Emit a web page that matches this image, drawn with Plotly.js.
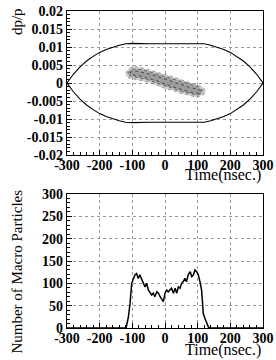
<!DOCTYPE html>
<html>
<head>
<meta charset="utf-8">
<script src="https://cdn.plot.ly/plotly-3.0.1.min.js"></script>
<style>html,body{margin:0;padding:0;background:#fff;}#chart{width:276px;height:360px;}</style>
</head>
<body>
<div id="chart"></div>
<script>
// Separatrix (bucket boundary)
var sepTime  = [-300,-280,-260,-240,-220,-200,-180,-160,-140,-120,-100,-50,0,50,100,120,140,160,180,200,220,240,260,280,300];
var sepUpper = [0,0.0025,0.0045,0.0061,0.0074,0.0085,0.0093,0.0100,0.0105,0.0109,0.0110,0.0109,0.0109,0.0109,0.0110,0.0109,0.0105,0.0100,0.0093,0.0085,0.0074,0.0061,0.0045,0.0025,0];
var sepLower = [0,-0.0025,-0.0045,-0.0061,-0.0074,-0.0085,-0.0093,-0.0100,-0.0105,-0.0109,-0.0110,-0.0109,-0.0109,-0.0109,-0.0110,-0.0109,-0.0105,-0.0100,-0.0093,-0.0085,-0.0074,-0.0061,-0.0045,-0.0025,0];

// Particle distribution outline (outer)
var blobOuterT  = [-120,-112,-100,-90,-70,-50,-25,0,25,50,75,100,115,124,119,105,90,70,50,25,0,-25,-50,-75,-95,-110,-120];
var blobOuterDp = [0.0027,0.0039,0.0044,0.0045,0.0042,0.0037,0.0030,0.0024,0.0017,0.0009,0.0001,-0.0005,-0.0011,-0.0022,-0.0032,-0.0037,-0.0038,-0.0033,-0.0029,-0.0021,-0.0015,-0.0006,0.0002,0.0007,0.0010,0.0014,0.0021];
// Middle ring
var blobMidT  = [-114,-105,-90,-70,-50,-25,0,25,50,75,100,114,112,100,80,50,25,0,-25,-50,-75,-95,-108,-114];
var blobMidDp = [0.0028,0.0037,0.0039,0.0037,0.0032,0.0025,0.0018,0.0010,0.0002,-0.0005,-0.0010,-0.0020,-0.0029,-0.0033,-0.0030,-0.0023,-0.0016,-0.0009,0.0000,0.0008,0.0014,0.0017,0.0020,0.0028];
// Particle distribution core (inner)
var blobInnerT  = [-108,-100,-80,-50,-25,0,25,50,75,100,110,106,95,75,50,25,0,-25,-50,-75,-95,-104,-108];
var blobInnerDp = [0.0028,0.0033,0.0032,0.0026,0.0019,0.0011,0.0003,-0.0005,-0.0012,-0.0017,-0.0022,-0.0028,-0.0029,-0.0025,-0.0018,-0.0010,-0.0003,0.0006,0.0013,0.0019,0.0022,0.0024,0.0028];

// Line density histogram
var histTime  = [-300,-119,-112,-107,-102,-99,-92,-87,-82,-77,-71,-66,-61,-56,-51,-46,-41,-36,-31,-25,-20,-15,-10,-5,0,5,10,15,20,26,31,36,41,46,51,56,61,66,71,77,82,87,92,97,102,107,112,115,117,122,128,133,138,300];
var histCount = [0,0,25,55,100,107,119,122,111,119,107,100,92,100,85,78,74,78,70,81,78,70,63,59,78,85,81,85,89,78,89,78,92,89,100,104,111,104,119,126,115,119,130,126,119,104,85,55,33,22,11,2,0,0];

// Tick labels
var xTickVals = [-300,-200,-100,0,100,200,300];
var xTickText = ["-300","-200","-100","0","100","200","300"];
var dpTickVals = [-0.02,-0.015,-0.01,-0.005,0,0.005,0.01,0.015,0.02];
var dpTickText = ["-0.02","-0.015","-0.01","-0.005","0","0.005","0.01","0.015","0.02"];
var nTickVals = [0,50,100,150,200,250,300];
var nTickText = ["0","50","100","150","200","250","300"];

var serif = "Times New Roman, Liberation Serif, serif";
var tickFont = {family:serif, size:14, color:"#000", weight:700};
var titleFont = {family:serif, size:15, color:"#000"};

function axisBase(extra){
  var a = {
    showline:true, linecolor:"#000", linewidth:1.2, mirror:true,
    ticks:"inside", ticklen:5, tickwidth:1, tickcolor:"#000",
    tickmode:"array", tickfont:tickFont,
    showgrid:true, gridcolor:"#999", gridwidth:1, griddash:"dot",
    zeroline:false, fixedrange:true
  };
  for (var k in extra) a[k] = extra[k];
  return a;
}

var traces = [
  {x:blobOuterT, y:blobOuterDp, xaxis:"x", yaxis:"y", mode:"lines", fill:"toself",
   fillcolor:"rgba(160,160,160,0.55)", line:{color:"rgba(120,120,120,0.9)", width:0.8, dash:"dot"}, hoverinfo:"skip"},
  {x:blobMidT, y:blobMidDp, xaxis:"x", yaxis:"y", mode:"lines", fill:"toself",
   fillcolor:"rgba(120,120,120,0.45)", line:{color:"rgba(60,60,60,0.9)", width:0.8, dash:"dot"}, hoverinfo:"skip"},
  {x:blobInnerT, y:blobInnerDp, xaxis:"x", yaxis:"y", mode:"lines", fill:"toself",
   fillcolor:"rgba(150,150,150,0.6)", line:{color:"rgba(50,50,50,0.9)", width:0.9, dash:"dot"}, hoverinfo:"skip"},
  {x:sepTime, y:sepUpper, xaxis:"x", yaxis:"y", mode:"lines", line:{color:"#000", width:1.1}},
  {x:sepTime, y:sepLower, xaxis:"x", yaxis:"y", mode:"lines", line:{color:"#000", width:1.1}},
  {x:histTime, y:histCount, xaxis:"x2", yaxis:"y2", mode:"lines", line:{color:"#000", width:1.5}}
];

var layout = {
  width:276, height:360,
  margin:{l:67, r:13, t:11, b:32},
  paper_bgcolor:"#fff", plot_bgcolor:"#fff",
  showlegend:false,
  xaxis: axisBase({domain:[0,1], range:[-300,300], tickvals:xTickVals, ticktext:xTickText, anchor:"y", ticklabelstandoff:-3,
    minor:{ticks:"inside", ticklen:3, tickcolor:"#000", dtick:20, tick0:0, showgrid:false}}),
  yaxis: axisBase({domain:[0.5457,1], range:[-0.02,0.02], tickvals:dpTickVals, ticktext:dpTickText, anchor:"x",
    minor:{ticks:"inside", ticklen:3, tickcolor:"#000", dtick:0.001, tick0:0, showgrid:false}}),
  xaxis2: axisBase({domain:[0,1], range:[-300,300], tickvals:xTickVals, ticktext:xTickText, anchor:"y2", ticklabelstandoff:-3,
    minor:{ticks:"inside", ticklen:3, tickcolor:"#000", dtick:20, tick0:0, showgrid:false}}),
  yaxis2: axisBase({domain:[0,0.4227], range:[0,300], tickvals:nTickVals, ticktext:nTickText, anchor:"x2",
    minor:{ticks:"inside", ticklen:3, tickcolor:"#000", dtick:10, tick0:0, showgrid:false}}),
  annotations:[
    {text:"Time(nsec.)", xref:"paper", yref:"paper", x:1, y:0.482, xanchor:"right", yanchor:"middle",
     showarrow:false, font:{family:serif, size:16, color:"#000"}},
    {text:"Time(nsec.)", xref:"paper", yref:"paper", x:1, y:-0.068, xanchor:"right", yanchor:"middle",
     showarrow:false, font:{family:serif, size:16, color:"#000"}},
    {text:"dp/p", xref:"paper", yref:"paper", x:-0.255, y:0.965, xanchor:"center", yanchor:"middle",
     textangle:-90, showarrow:false, font:titleFont},
    {text:"Number of Macro Particles", xref:"paper", yref:"paper", x:-0.255, y:0.178, xanchor:"center", yanchor:"middle",
     textangle:-90, showarrow:false, font:titleFont}
  ]
};

Plotly.newPlot("chart", traces, layout, {staticPlot:true, displayModeBar:false});
</script>
</body>
</html>
